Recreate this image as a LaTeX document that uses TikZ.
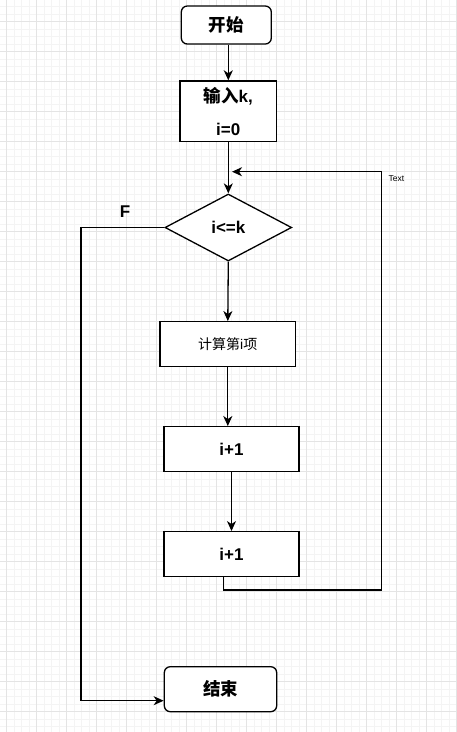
\documentclass[tikz,border=0pt]{standalone}
\usepackage{fontspec}
\setmainfont{Liberation Sans}
\newfontfamily\cjk{Noto Sans CJK SC}
\usetikzlibrary{shapes.geometric,arrows.meta}
\definecolor{minorg}{HTML}{F4F4F4}
\definecolor{majorg}{HTML}{E4E4E4}
\tikzset{
  box/.style={draw=black, line width=1.3pt, fill=white, inner sep=0pt, anchor=center},
  rbox/.style={box, rounded corners=6pt},
  dia/.style={box, shape=diamond},
  conn/.style={line width=1.3pt, -{Stealth[length=10pt,width=9pt,inset=3pt]}},
  bigtxt/.style={font=\fontsize{17}{33}\selectfont\bfseries},
}
\begin{document}
\begin{tikzpicture}[x=1pt,y=-1pt]
\useasboundingbox (0,0) rectangle (456,732);
\fill[white] (0,0) rectangle (456,732);
% grid
\foreach \i in {-1,...,61} \draw[minorg, line width=0.8pt] ({6.7+7.5*\i},0) -- ({6.7+7.5*\i},732);
\foreach \i in {-1,...,97} \draw[minorg, line width=0.8pt] (0,{6.7+7.5*\i}) -- (456,{6.7+7.5*\i});
\foreach \i in {0,...,15} \draw[majorg, line width=0.9pt] ({6.7+30*\i},0) -- ({6.7+30*\i},732);
\foreach \i in {-1,...,24} \draw[majorg, line width=0.9pt] (0,{21.7+30*\i}) -- (456,{21.7+30*\i});
% nodes
\node[rbox, minimum width=90pt, minimum height=38pt, bigtxt] (start) at (226.3,25) {\cjk\bfseries\fontsize{17.5}{20}\selectfont 开始};
\node[box, minimum width=96.7pt, minimum height=60.7pt, bigtxt, align=center] (input) at (228.3,111.3) {{\cjk\bfseries\fontsize{17.5}{33}\selectfont 输入}k,\\i=0};
\node[dia, minimum width=126.7pt, minimum height=67pt, bigtxt] (cond) at (228.3,227.5) {i<=k};
\node[box, minimum width=135.7pt, minimum height=45pt, font=\fontsize{14}{16}\selectfont] (calc) at (227.8,344.2) {{\cjk 计算第}i{\cjk 项}};
\node[box, minimum width=135pt, minimum height=45pt, bigtxt] (inc1) at (231.5,449.2) {i+1};
\node[box, minimum width=135pt, minimum height=45pt, bigtxt] (inc2) at (231.5,554.2) {i+1};
\node[rbox, minimum width=112.4pt, minimum height=45pt, bigtxt] (end) at (220.5,689.2) {\cjk\bfseries\fontsize{17.5}{20}\selectfont 结束};
% labels
\node[font=\fontsize{17}{18}\selectfont\bfseries] (flab) at (125,212) {F};
\node[font=\fontsize{8.5}{10}\selectfont, anchor=west] (tlab) at (385,179) {Text};
% coordinates
\coordinate (lb) at (381.7,590);
\coordinate (lt) at (381.7,171.7);
\coordinate (le) at (232,171.7);
\coordinate (fb) at (81,700.7);
% connectors
\draw[conn] (start.south -| input.north) -- (input.north);
\draw[conn] (input.south) -- (cond.north);
\draw[conn] (cond.south) -- (calc.north);
\draw[conn] (calc.south) -- (calc.south |- inc1.north);
\draw[conn] (inc1.south) -- (inc2.north);
\draw[conn] ([xshift=-8pt]inc2.south) |- (lb) -- (lt) -- (le);
\draw[conn] (cond.west) -| (fb) -- (end.west |- fb);
\end{tikzpicture}
\end{document}
